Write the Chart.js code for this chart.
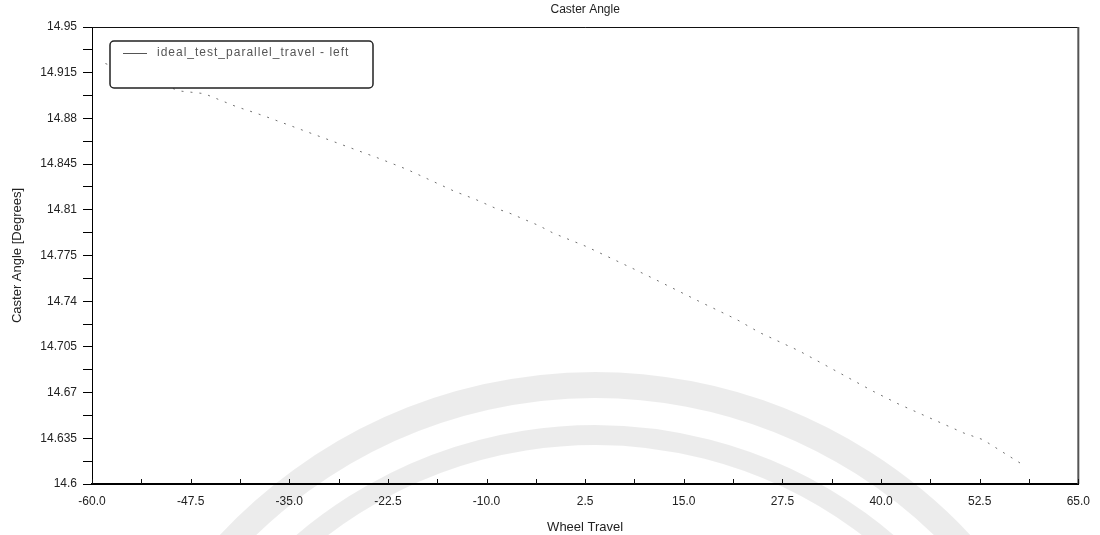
<!DOCTYPE html>
<html>
<head>
<meta charset="utf-8">
<script src="https://cdn.jsdelivr.net/npm/chart.js@4"></script>
<style>
  html, body { margin: 0; padding: 0; background: #fff; }
  #wrap { width: 1100px; height: 535px; position: relative; }
</style>
</head>
<body>
<div id="wrap"><canvas id="c" width="1100" height="535"></canvas></div>
<script>
// ---- data ----
const chartTitle = 'Caster Angle';
const seriesLabel = 'ideal_test_parallel_travel - left';
const xAxisTitle = 'Wheel Travel';
const yAxisTitle = 'Caster Angle [Degrees]';

const wheelTravel = [-58.3, -48.9, -45.8, -41.7, -39.2, -37.8, -23.9, -22.2, -20.1, -14.0, -11.4, -8.8, -7.3, -3.4, -1.5, 2.6, 8.9, 11.6, 16.9, 21.7, 24.6, 29.6, 39.0, 42.3, 50.5, 52.9, 57.9];
const casterAngle = [14.922, 14.901, 14.899, 14.889, 14.884, 14.881, 14.850, 14.846, 14.841, 14.824, 14.818, 14.811, 14.808, 14.798, 14.792, 14.782, 14.764, 14.756, 14.740, 14.726, 14.716, 14.702, 14.671, 14.661, 14.639, 14.634, 14.615];

const xTickValues = [-60, -47.5, -35, -22.5, -10, 2.5, 15, 27.5, 40, 52.5, 65];
const xTickLabels = ['-60.0', '-47.5', '-35.0', '-22.5', '-10.0', '2.5', '15.0', '27.5', '40.0', '52.5', '65.0'];
const yTickValues = [14.6, 14.635, 14.67, 14.705, 14.74, 14.775, 14.81, 14.845, 14.88, 14.915, 14.95];
const yTickLabels = ['14.6', '14.635', '14.67', '14.705', '14.74', '14.775', '14.81', '14.845', '14.88', '14.915', '14.95'];

const FONT = "'Liberation Sans', Arial, sans-serif";

function withMinor(values) {
  const out = [];
  for (let i = 0; i < values.length; i++) {
    out.push({ value: values[i], major: true });
    if (i < values.length - 1) out.push({ value: (values[i] + values[i + 1]) / 2, major: false });
  }
  return out;
}

const watermark = {
  id: 'watermark',
  beforeDraw(chart) {
    const ctx = chart.ctx;
    ctx.save();
    ctx.strokeStyle = 'rgba(0,0,0,0.075)';
    ctx.lineWidth = 26;
    ctx.beginPath();
    ctx.arc(595, 885, 500, Math.PI * 1.18, Math.PI * 1.82);
    ctx.stroke();
    ctx.lineWidth = 20;
    ctx.beginPath();
    ctx.arc(595, 885, 450, Math.PI * 1.2, Math.PI * 1.8);
    ctx.stroke();
    ctx.restore();
  }
};

const frameAndDecor = {
  id: 'frameAndDecor',
  afterDraw(chart) {
    const ctx = chart.ctx;
    const a = chart.chartArea;
    const xs = chart.scales.x;
    ctx.save();
    // top and right frame
    ctx.strokeStyle = '#111';
    ctx.lineWidth = 1;
    ctx.beginPath();
    ctx.moveTo(a.left, a.top + 0.5); ctx.lineTo(a.right, a.top + 0.5);
    ctx.stroke();
    ctx.strokeStyle = '#555';
    ctx.lineWidth = 2;
    ctx.beginPath();
    ctx.moveTo(a.right, a.top); ctx.lineTo(a.right, a.bottom);
    ctx.stroke();
    // inward x ticks
    ctx.strokeStyle = '#111';
    ctx.lineWidth = 1;
    withMinor(xTickValues).forEach(t => {
      const px = Math.round(xs.getPixelForValue(t.value)) + 0.5;
      ctx.beginPath();
      ctx.moveTo(px, a.bottom);
      ctx.lineTo(px, a.bottom - 5);
      ctx.stroke();
    });
    // title centred over the plot
    ctx.fillStyle = '#222';
    ctx.font = '12px ' + FONT;
    ctx.textAlign = 'center';
    ctx.textBaseline = 'middle';
    ctx.fillText(chartTitle, (a.left + a.right) / 2, 10);
    // legend box inside plot
    const bx = 110, by = 41, bw = 263, bh = 47;
    ctx.fillStyle = '#fff';
    ctx.strokeStyle = '#222';
    ctx.lineWidth = 1.5;
    ctx.beginPath();
    ctx.roundRect(bx, by, bw, bh, 4);
    ctx.fill();
    ctx.stroke();
    const ds = chart.data.datasets[0];
    ctx.strokeStyle = '#555';
    ctx.lineWidth = 1;
    ctx.beginPath();
    ctx.moveTo(bx + 13, by + 12.5); ctx.lineTo(bx + 37, by + 12.5);
    ctx.stroke();
    ctx.fillStyle = '#555';
    ctx.font = '12px ' + FONT;
    ctx.letterSpacing = '1px';
    ctx.textAlign = 'left';
    ctx.fillText(ds.label, bx + 47, by + 12);
    ctx.restore();
  }
};

new Chart(document.getElementById('c'), {
  type: 'scatter',
  data: {
    datasets: [{
      label: seriesLabel,
      data: wheelTravel.map((x, i) => ({ x: x, y: casterAngle[i] })),
      showLine: true,
      borderColor: '#707070',
      borderWidth: 1,
      borderDash: [2, 7],
      pointRadius: 0,
      tension: 0
    }]
  },
  options: {
    responsive: false,
    animation: false,
    layout: { padding: { top: 27, right: 17, left: 0, bottom: 0 } },
    plugins: { legend: { display: false }, title: { display: false }, tooltip: { enabled: false } },
    scales: {
      x: {
        type: 'linear',
        min: -60, max: 65,
        afterFit(s) { s.height = 51; },
        afterBuildTicks(s) { s.ticks = xTickValues.map(v => ({ value: v })); },
        ticks: {
          autoSkip: false, maxRotation: 0,
          padding: 10,
          color: '#222',
          font: { family: FONT, size: 12 },
          callback(v, i) { return xTickLabels[i]; }
        },
        grid: { display: true, drawOnChartArea: false, drawTicks: false, color: '#000' },
        border: { display: true, color: '#000', width: 2 },
        title: { display: true, text: xAxisTitle, color: '#222', font: { family: FONT, size: 13 }, padding: { top: 4, bottom: 0 } }
      },
      y: {
        type: 'linear',
        min: 14.6, max: 14.95,
        afterFit(s) { s.width = 92; },
        afterBuildTicks(s) { s.ticks = withMinor(yTickValues).map(t => ({ value: t.value, major: t.major })); },
        ticks: {
          autoSkip: false,
          padding: 6,
          color: '#222',
          font: { family: FONT, size: 12 },
          callback(v, i) { return i % 2 === 0 ? yTickLabels[i / 2] : ''; }
        },
        grid: { display: true, drawOnChartArea: false, drawTicks: true, tickLength: 9, color: '#000' },
        border: { display: true, color: '#000', width: 1 },
        title: { display: true, text: yAxisTitle, color: '#222', font: { family: FONT, size: 13 }, padding: { top: 10, bottom: 0 } }
      }
    }
  },
  plugins: [watermark, frameAndDecor]
});
</script>
</body>
</html>
